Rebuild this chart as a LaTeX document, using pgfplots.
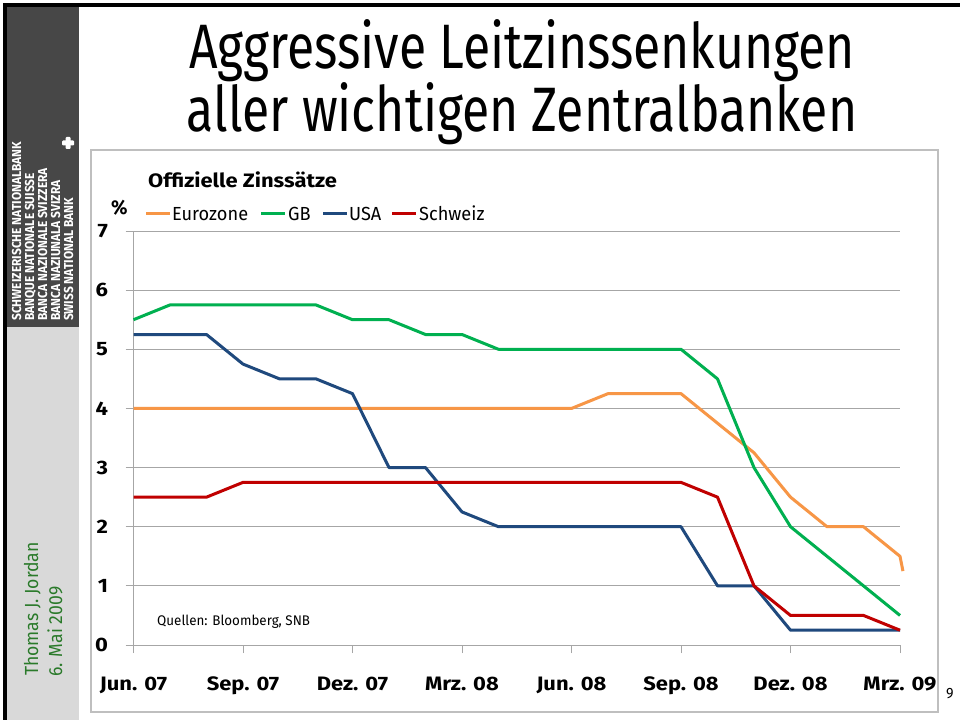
\documentclass[border=0pt]{standalone}
\usepackage{pgfplots}
\pgfplotsset{compat=1.18}
\usepackage{fontspec}
\setmainfont{Fira Sans}
\newfontfamily\titlefont[FakeStretch=0.795]{Fira Sans}
\newfontfamily\logofont[FakeStretch=0.92]{Fira Sans}
\newfontfamily\chartfont[FakeStretch=0.96]{Fira Sans}
\newfontfamily\chartbold[FakeStretch=1.13]{Fira Sans}
\newfontfamily\namefont[FakeStretch=0.93]{Fira Sans}
\definecolor{euro}{HTML}{F79646}
\definecolor{gb}{HTML}{00B050}
\definecolor{usa}{HTML}{1F497D}
\definecolor{ch}{HTML}{C00000}
\definecolor{sidedark}{HTML}{474747}
\definecolor{sidelight}{HTML}{D9D9D9}
\definecolor{namegreen}{HTML}{2A7A2A}
\definecolor{gridgray}{HTML}{A6A6A6}
\definecolor{framegray}{HTML}{BFBFBF}

\pgfplotstableread{
m eu
0 4.0
1 4.0
2 4.0
3 4.0
4 4.0
5 4.0
6 4.0
7 4.0
8 4.0
9 4.0
10 4.0
11 4.0
12 4.0
13 4.25
14 4.25
15 4.25
16 3.75
17 3.25
18 2.5
19 2.0
20 2.0
21 1.5
21.08 1.25
}\euro

\pgfplotstableread{
m gb us ch
0 5.5 5.25 2.5
1 5.75 5.25 2.5
2 5.75 5.25 2.5
3 5.75 4.75 2.75
4 5.75 4.5 2.75
5 5.75 4.5 2.75
6 5.5 4.25 2.75
7 5.5 3.0 2.75
8 5.25 3.0 2.75
9 5.25 2.25 2.75
10 5.0 2.0 2.75
11 5.0 2.0 2.75
12 5.0 2.0 2.75
13 5.0 2.0 2.75
14 5.0 2.0 2.75
15 5.0 2.0 2.75
16 4.5 1.0 2.5
17 3.0 1.0 1.0
18 2.0 0.25 0.5
19 1.5 0.25 0.5
20 1.0 0.25 0.5
21 0.5 0.25 0.25
}\others

\begin{document}
\begin{tikzpicture}
\begin{scope}[x=1bp,y=-1bp]
\fill[white] (0,0) rectangle (960,720);
\fill[sidedark] (7,7) rectangle (79,327);
\fill[sidelight] (7,327) rectangle (79,720);
\fill[black] (3,3) rectangle (960,7);
\fill[black] (3,3) rectangle (7,720);
\draw[framegray, line width=1.5bp] (91,150) rectangle (938,712);
% logo
\foreach \t/\xx in {SCHWEIZERISCHE NATIONALBANK/21, BANQUE NATIONALE SUISSE/34, BANCA NAZIONALE SVIZZERA/47, BANCA NAZIUNALA SVIZRA/60, SWISS NATIONAL BANK/73}
  \node[rotate=90, anchor=base west, inner sep=0pt, text=white, font=\logofont\bfseries\fontsize{13}{13}\selectfont] at (\xx,321) {\t};
\fill[white, rounded corners=1bp] (65.5,137) rectangle (70.5,149);
\fill[white, rounded corners=1bp] (62,140.5) rectangle (74,145.5);
% name
\node[rotate=90, anchor=base west, inner sep=0pt, text=namegreen, font=\namefont\fontsize{19}{19}\selectfont] at (38,676) {Thomas J. Jordan};
\node[rotate=90, anchor=base west, inner sep=0pt, text=namegreen, font=\namefont\fontsize{19}{19}\selectfont] at (62,677) {6. Mai 2009};
% title
\node[anchor=base, inner sep=0pt, font=\titlefont\fontsize{63}{63}\selectfont] at (522,69) {Aggressive Leitzinssenkungen};
\node[anchor=base, inner sep=0pt, font=\titlefont\fontsize{63}{63}\selectfont] at (522,132) {aller wichtigen Zentralbanken};
% chart title and legend
\node[anchor=base west, inner sep=0pt, font=\chartbold\bfseries\fontsize{19.5}{19.5}\selectfont] at (148,188) {Offizielle Zinssätze};
\node[anchor=base west, inner sep=0pt, font=\chartfont\bfseries\fontsize{20}{20}\selectfont] at (111,214) {\%};
\draw[euro, line width=3bp] (146,213) -- (170,213);
\node[anchor=base west, inner sep=0pt, font=\chartfont\fontsize{19}{19}\selectfont] at (172,220) {Eurozone};
\draw[gb, line width=3bp] (261,213) -- (285,213);
\node[anchor=base west, inner sep=0pt, font=\chartfont\fontsize{19}{19}\selectfont] at (288,220) {GB};
\draw[usa, line width=3bp] (323,213) -- (347,213);
\node[anchor=base west, inner sep=0pt, font=\chartfont\fontsize{19}{19}\selectfont] at (349,220) {USA};
\draw[ch, line width=3bp] (392,213) -- (416,213);
\node[anchor=base west, inner sep=0pt, font=\chartfont\fontsize{19}{19}\selectfont] at (419,220) {Schweiz};
\node[anchor=base west, inner sep=0pt, font=\chartfont\fontsize{14}{14}\selectfont] at (157,625) {Quellen: Bloomberg, SNB};
\node[anchor=base, inner sep=0pt, font=\chartfont\fontsize{15}{15}\selectfont] at (950,698) {9};
\end{scope}
\begin{axis}[
  at={(133.5bp,-645bp)}, anchor=south west,
  scale only axis, width=766.5bp, height=414bp,
  xmin=0, xmax=21, ymin=0, ymax=7,
  axis x line*=bottom, axis y line*=left,
  axis line style={gridgray, line width=1bp, -},
  xtick={0,3,6,9,12,15,18,21},
  xticklabels={Jun. 07, Sep. 07, Dez. 07, Mrz. 08, Jun. 08, Sep. 08, Dez. 08, Mrz. 09},
  ytick={0,1,2,3,4,5,6,7},
  ymajorgrids, grid style={gridgray, line width=1bp},
  tick style={gridgray, line width=1bp},
  tick align=outside, major tick length=8bp,
  xticklabel style={font=\chartbold\bfseries\fontsize{19.5}{19.5}\selectfont, anchor=base, yshift=-37bp},
  yticklabel style={font=\chartbold\bfseries\fontsize{19.5}{19.5}\selectfont, anchor=east, xshift=-14bp},
  /pgf/number format/assume math mode=true,
  clip=false,
  every axis plot/.append style={line width=3bp, line join=round, no markers},
]
\addplot[euro] table[x=m, y=eu] {\euro};
\addplot[gb] table[x=m, y=gb] {\others};
\addplot[usa] table[x=m, y=us] {\others};
\addplot[ch] table[x=m, y=ch] {\others};
\end{axis}
\end{tikzpicture}
\end{document}
